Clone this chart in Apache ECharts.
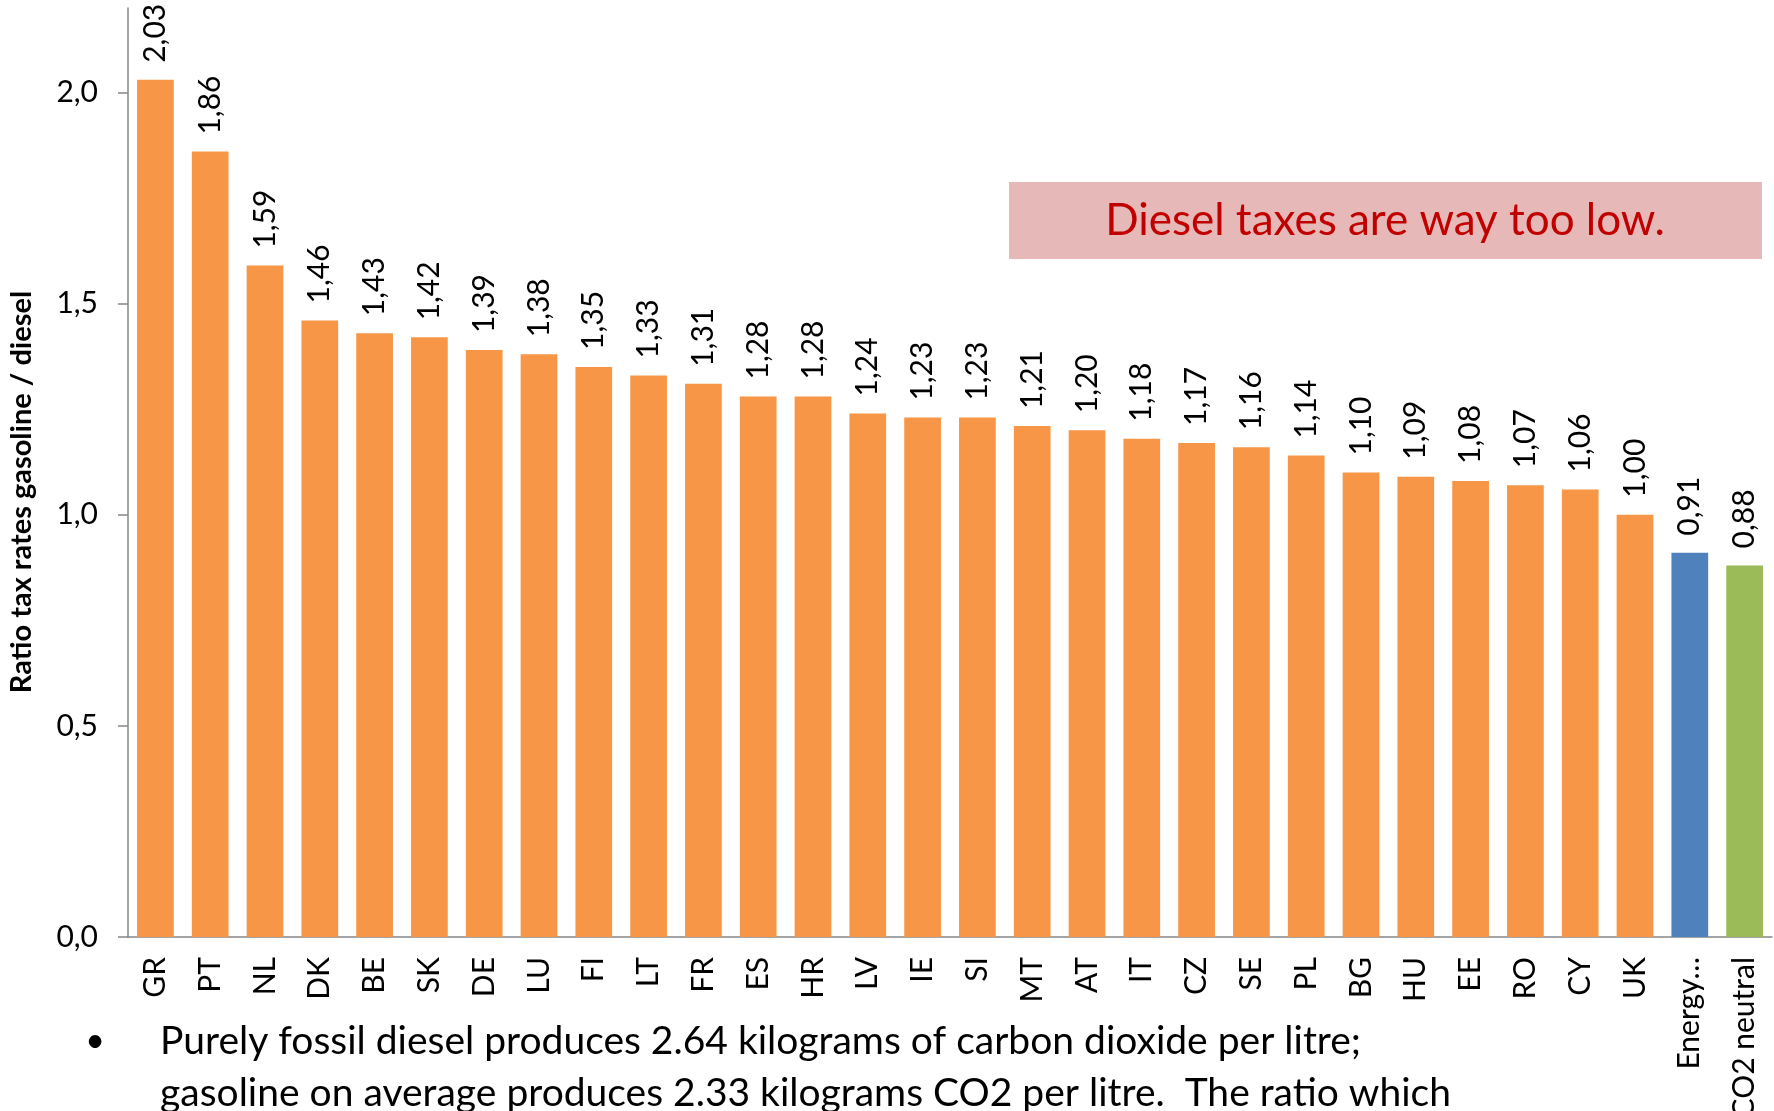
<!DOCTYPE html>
<html>
<head>
<meta charset="utf-8">
<script src="https://cdn.jsdelivr.net/npm/echarts@6/dist/echarts.min.js"></script>
<style>
html,body{margin:0;padding:0;background:#fff;}
#chart{width:1774px;height:1111px;}
</style>
</head>
<body>
<div id="chart"></div>
<script>
var categories = ['GR','PT','NL','DK','BE','SK','DE','LU','FI','LT','FR','ES','HR','LV','IE','SI','MT','AT','IT','CZ','SE','PL','BG','HU','EE','RO','CY','UK','Energy…','CO2 neutral'];
var ratios = [2.03,1.86,1.59,1.46,1.43,1.42,1.39,1.38,1.35,1.33,1.31,1.28,1.28,1.24,1.23,1.23,1.21,1.20,1.18,1.17,1.16,1.14,1.10,1.09,1.08,1.07,1.06,1.00,0.91,0.88];
var yTicks = [0, 0.5, 1.0, 1.5, 2.0];
var yTitle = 'Ratio tax rates gasoline / diesel';
var note = 'Diesel taxes are way too low.';
var bulletLines = [
  'Purely fossil diesel produces 2.64 kilograms of carbon dioxide per litre;',
  'gasoline on average produces 2.33 kilograms CO2 per litre.  The ratio which'
];

var FONT = 'Lato, "Open Sans", sans-serif';
var specialColors = {'Energy…':'#4F81BD','CO2 neutral':'#9BBB59'};

var chart = echarts.init(document.getElementById('chart'), null, {renderer:'canvas'});
chart.setOption({
  animation:false,
  backgroundColor:'#ffffff',
  textStyle:{fontFamily:FONT},
  grid:{left:128,right:2,top:8,bottom:174,containLabel:false,outerBoundsMode:'none'},
  xAxis:{
    type:'category',
    data:categories,
    axisLine:{show:true,lineStyle:{color:'#868686',width:1.5}},
    axisTick:{show:false},
    axisLabel:{rotate:90,margin:20,fontSize:30,color:'#000',fontFamily:FONT,interval:0}
  },
  yAxis:{
    type:'value',
    min:0,max:2.2,
    axisLine:{show:true,lineStyle:{color:'#868686',width:1.5}},
    axisTick:{show:true,inside:false,length:10,customValues:yTicks,lineStyle:{color:'#868686',width:1.5}},
    axisLabel:{customValues:yTicks,margin:30,fontSize:30,color:'#000',fontFamily:FONT,
      formatter:function(v){return v.toFixed(1).replace('.',',');}},
    splitLine:{show:false}
  },
  series:[{
    type:'bar',
    data:ratios,
    barCategoryGap:'33%',
    itemStyle:{color:function(p){return specialColors[categories[p.dataIndex]]||'#F79646';}},
    label:{show:true,position:'top',rotate:90,align:'left',verticalAlign:'middle',distance:17,
      fontSize:30,color:'#000',fontFamily:FONT,
      formatter:function(p){return p.value.toFixed(2).replace('.',',');}}
  }],
  graphic:[
    {type:'text',x:22,y:492,rotation:Math.PI/2,
      style:{text:yTitle,font:'bold 29px '+FONT,fill:'#000',textAlign:'center',textVerticalAlign:'middle'}},
    {type:'rect',shape:{x:1009,y:182,width:753,height:77},style:{fill:'#E6B8B7'}},
    {type:'text',x:1385,y:221,
      style:{text:note,font:'44px '+FONT,fill:'#C00000',textAlign:'center',textVerticalAlign:'middle'}},
    {type:'text',x:95,y:1041,style:{text:'•',font:'34px '+FONT,fill:'#000',textAlign:'center',textVerticalAlign:'middle'}},
    {type:'text',x:160,y:1041,style:{text:bulletLines[0],font:'39px '+FONT,fill:'#000',textAlign:'left',textVerticalAlign:'middle'}},
    {type:'text',x:160,y:1093,style:{text:bulletLines[1],font:'39px '+FONT,fill:'#000',textAlign:'left',textVerticalAlign:'middle'}}
  ]
});
</script>
</body>
</html>
